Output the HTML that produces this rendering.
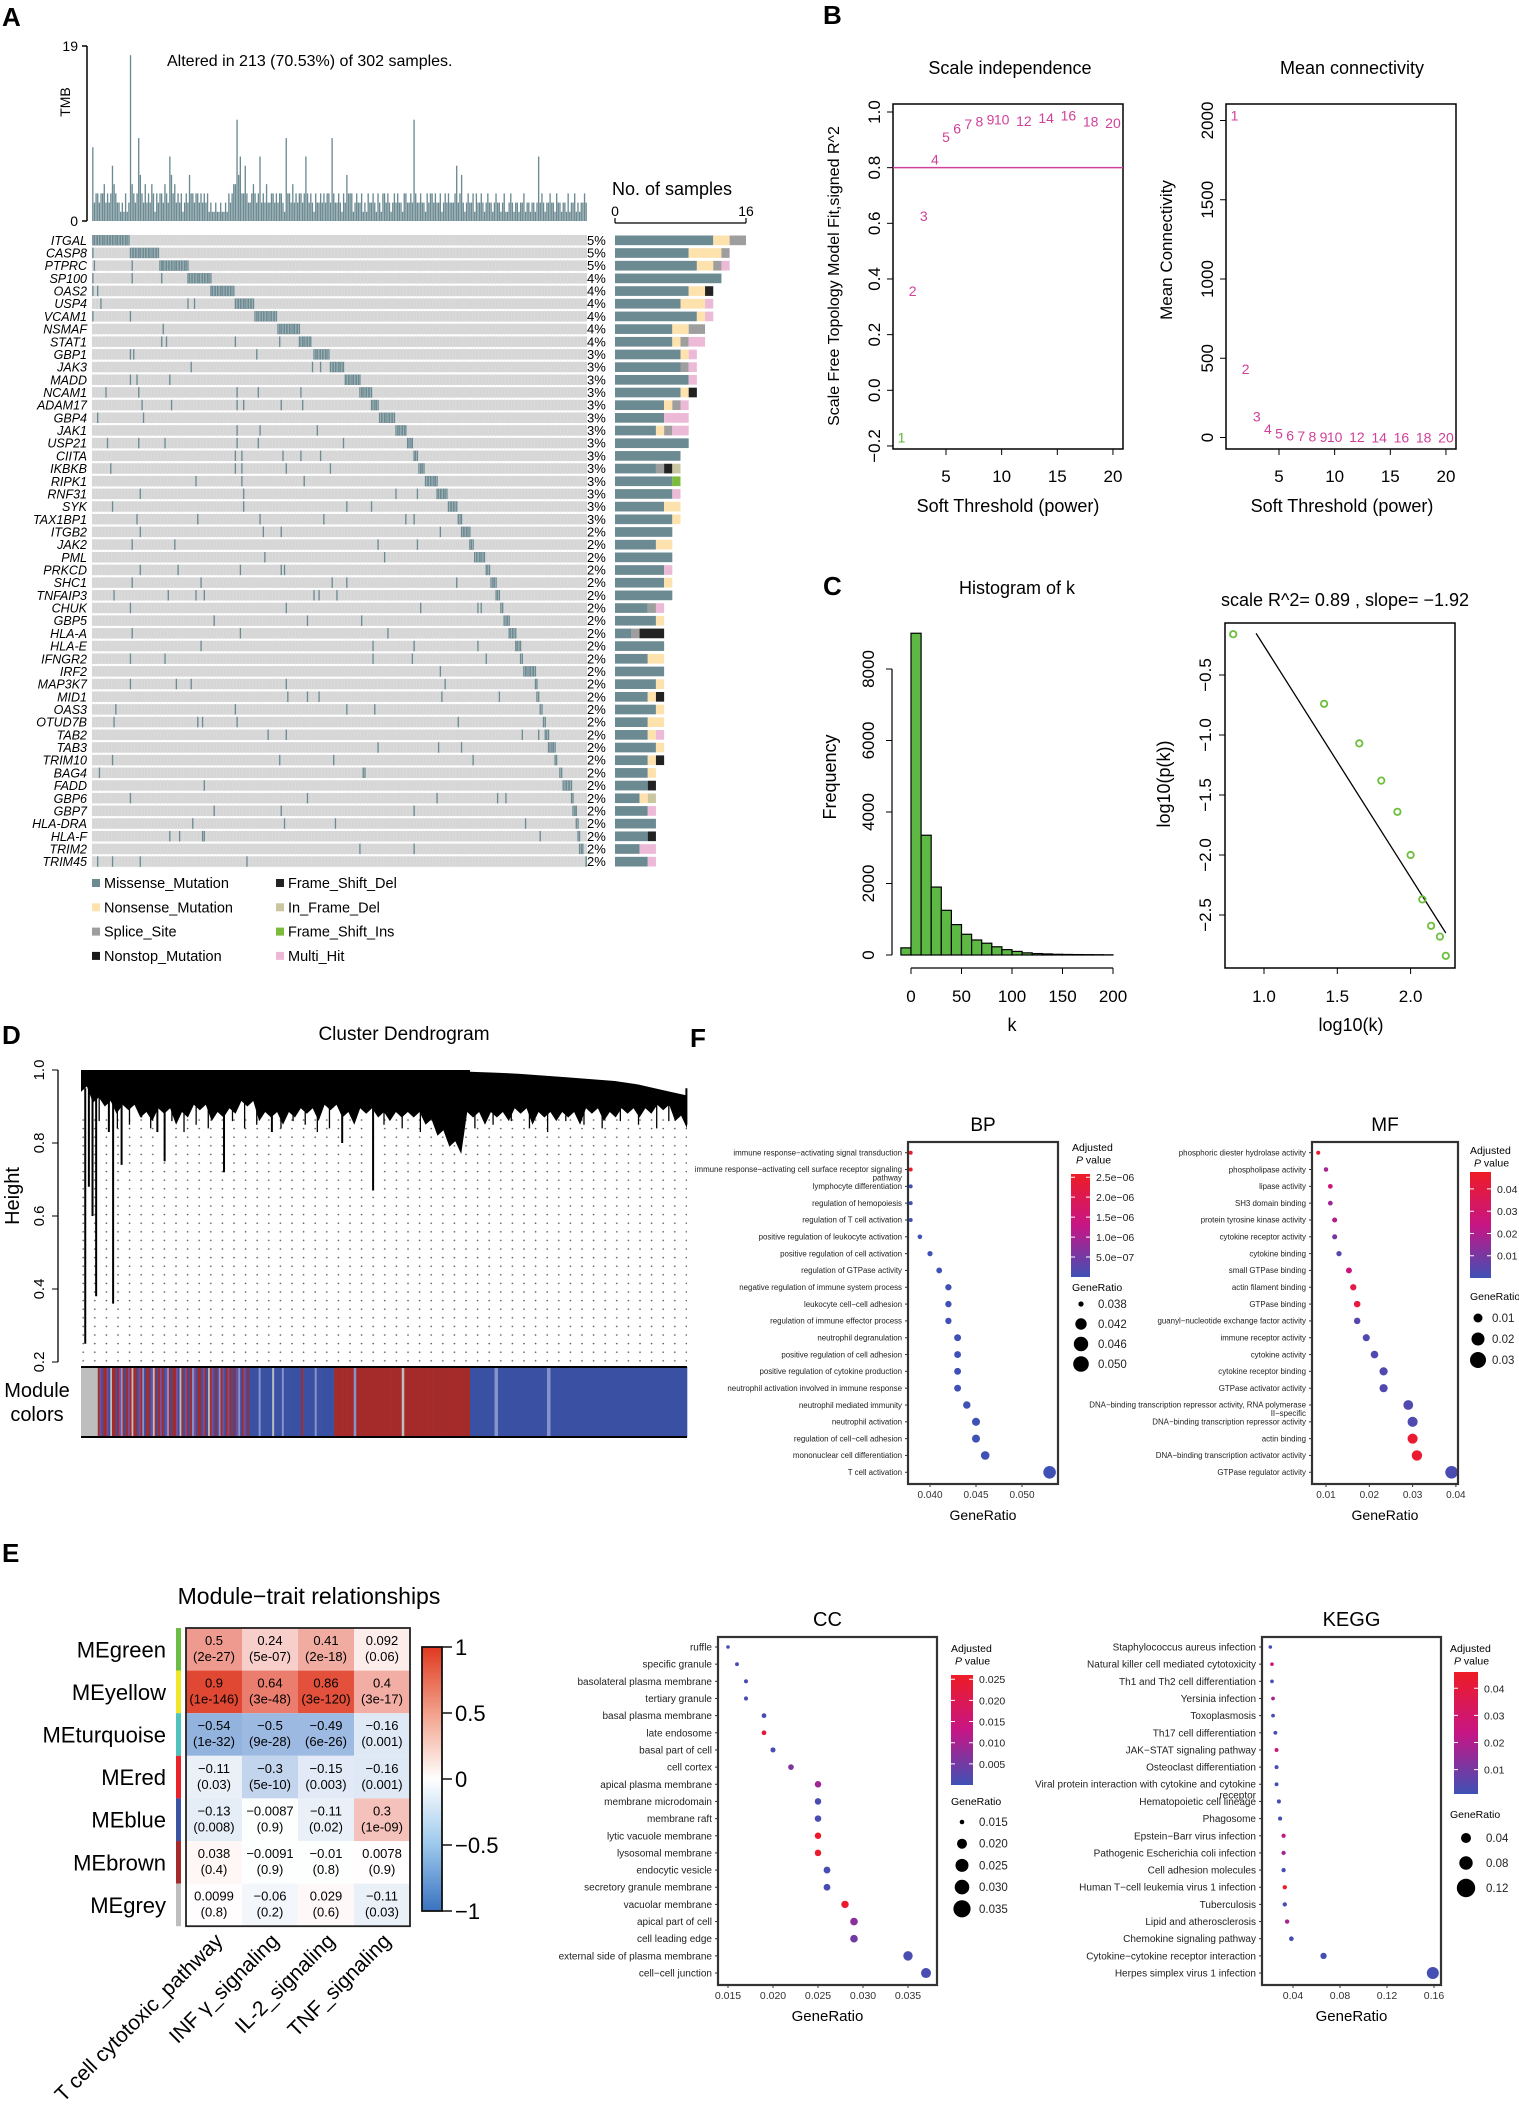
<!DOCTYPE html>
<html><head><meta charset="utf-8">
<style>
html,body{margin:0;padding:0;background:#fff;}
svg{display:block;font-family:"Liberation Sans",Arial,sans-serif;}
</style></head>
<body>
<svg id="fig" width="1519" height="2117" viewBox="0 0 1519 2117" xmlns="http://www.w3.org/2000/svg">
<defs>
<pattern id="dots" width="11.6" height="8.6" patternUnits="userSpaceOnUse"><circle cx="2" cy="2" r="0.8" fill="#555"/></pattern>
<linearGradient id="pgrad" x1="0" y1="1" x2="0" y2="0"><stop offset="0" stop-color="#3f51b5"/><stop offset="0.5" stop-color="#c71585"/><stop offset="1" stop-color="#ee1c25"/></linearGradient>
<linearGradient id="hgrad" x1="0" y1="1" x2="0" y2="0"><stop offset="0" stop-color="#3a72c0"/><stop offset="0.25" stop-color="#9cc8ec"/><stop offset="0.5" stop-color="#ffffff"/><stop offset="0.75" stop-color="#f2a08a"/><stop offset="1" stop-color="#e0391f"/></linearGradient>
<clipPath id="scClip"><rect x="1225" y="623" width="230" height="345"/></clipPath>
</defs>
<rect x="0" y="0" width="1519" height="2117" fill="#fff"/>
<text x="2" y="26" font-size="26" font-weight="bold">A</text>
<text x="823" y="24" font-size="26" font-weight="bold">B</text>
<text x="823" y="595" font-size="26" font-weight="bold">C</text>
<text x="2" y="1044" font-size="26" font-weight="bold">D</text>
<text x="2" y="1562" font-size="26" font-weight="bold">E</text>
<text x="690" y="1047" font-size="26" font-weight="bold">F</text>
</svg>
<script>
const NS='http://www.w3.org/2000/svg';
const svg=document.getElementById('fig');
function mk(p,tag,a,t){const e=document.createElementNS(NS,tag);for(const k in a)e.setAttribute(k,a[k]);if(t!==undefined)e.textContent=t;p.appendChild(e);return e;}
function tx(p,x,y,s,size,anchor,extra){const a=Object.assign({x:x,y:y,'font-size':size,'text-anchor':anchor||'start'},extra||{});return mk(p,'text',a,s);}
function grp(name){const g=mk(svg,'g',{});return g;}

/* ================= PANEL A DATA ================= */
const genes=['ITGAL','CASP8','PTPRC','SP100','OAS2','USP4','VCAM1','NSMAF','STAT1','GBP1','JAK3','MADD','NCAM1','ADAM17','GBP4','JAK1','USP21','CIITA','IKBKB','RIPK1','RNF31','SYK','TAX1BP1','ITGB2','JAK2','PML','PRKCD','SHC1','TNFAIP3','CHUK','GBP5','HLA-A','HLA-E','IFNGR2','IRF2','MAP3K7','MID1','OAS3','OTUD7B','TAB2','TAB3','TRIM10','BAG4','FADD','GBP6','GBP7','HLA-DRA','HLA-F','TRIM2','TRIM45'];
const genePct=[5,5,5,4,4,4,4,4,4,3,3,3,3,3,3,3,3,3,3,3,3,3,3,2,2,2,2,2,2,2,2,2,2,2,2,2,2,2,2,2,2,2,2,2,2,2,2,2,2,2];
const blockStart=[0,23,41,58,72,87,100,113,126,135,145,154,163,170,175,185,192,196,199,203,210,217,223,225,230,233,240,243,246,249,252,254,258,261,263,270,271,273,275,276,278,282,285,287,292,293,295,296,297,301];
const blockEnd=[22,40,58,72,86,98,112,126,133,144,153,163,170,174,184,191,195,198,202,210,216,222,225,230,232,239,242,246,248,250,254,258,261,262,270,271,272,274,276,278,282,283,286,292,293,295,296,297,299,301];
const scatter=[[],[0],[1,24,42],[0,24,42],[0,3],[5,58,62],[0,23,99],[43],[42,45,87,114],[23,25,100],[60,134,139],[23,27,47],[8,28,88,101,127],[30,48,88,92,115,128],[3,31],[88,102,137],[9,28,44,88,101,153],[87,91,116,127,139],[11,87,91,118,145],[63,91,129],[29,92,185,198],[12,92,155,170],[27,64,102,141,191,196],[29,104,115,212],[24,50,174,198],[105,178],[29,52,90,115,117],[24,66,146,155,222],[13,46,63,68,135,138,149],[23,118,200,235,237],[74,131,164,251],[24,90,180],[66,171,196,235],[23,44,171,195,240],[212],[23,51,60,118,215],[119,131,138,213,248],[14,87,155,172],[13,64,67,88,223],[107,118,262,272],[174,211,225],[12,114,147,232],[4,165,166],[68],[23,131,210,247,252],[74,115,196],[61,117,148,264],[47,53,67,68,273],[163,196],[3,12,29,94]];
const tmb=[8,2,3,3,2,3,3,4,2,3,2,3,6,4,3,2,2,1,2,1,
3,1,2,18,4,3,2,3,9,5,3,2,4,2,3,2,4,3,1,3,
2,3,3,2,4,3,2,7,5,3,4,2,3,2,3,1,2,3,2,5,
3,3,2,3,3,2,3,2,3,2,3,1,2,1,1,2,1,1,2,1,
1,2,1,3,2,3,4,4,11,5,7,3,3,6,3,2,2,3,4,3,
2,3,7,2,3,2,4,2,2,3,3,2,3,2,3,3,2,1,9,3,
3,2,4,2,3,2,3,3,2,3,7,3,2,3,2,1,3,2,2,3,
2,3,2,3,3,2,9,3,2,2,3,2,1,3,2,5,3,3,3,1,
2,3,2,2,3,1,2,1,3,2,2,3,2,1,3,2,1,3,3,2,
3,2,1,2,3,2,3,2,2,1,3,3,2,2,3,2,11,3,2,2,
3,2,2,1,3,2,3,3,2,3,2,2,3,1,2,3,2,3,2,2,
2,3,6,2,3,5,2,1,2,3,2,2,3,1,3,2,2,3,2,1,
2,3,2,2,1,2,3,2,2,1,2,3,1,1,2,3,2,1,2,2,
1,2,2,3,1,2,2,1,2,2,1,2,7,2,3,2,1,2,2,3,
2,2,1,3,2,2,1,2,2,1,3,1,2,2,3,1,2,1,2,2,
3,2];
const misCount=[12,9,10,13,9,8,10,7,7,8,8,9,8,6,6,5,9,8,5,7,7,6,7,7,5,7,6,6,7,4,5,2,6,4,6,5,4,5,4,4,5,4,4,4,3,4,5,4,3,4];
const nonCount=[2,4,2,0,2,3,1,2,1,1,0,0,1,1,0,1,0,0,0,0,0,2,1,0,2,0,0,1,0,0,1,0,0,2,0,1,1,1,2,1,1,1,1,0,1,0,0,0,0,0];
const spliceCount=[2,1,1,0,0,0,0,2,1,0,1,0,0,1,0,1,0,0,1,0,0,0,0,0,0,0,0,0,0,1,0,1,0,0,0,0,0,0,0,0,0,0,0,0,0,0,0,0,0,0];
const fsdelCount=[0,0,0,0,1,0,0,0,0,0,0,0,1,0,0,0,0,0,1,0,0,0,0,0,0,0,0,0,0,0,0,3,0,0,0,0,1,0,0,0,0,1,0,1,0,0,0,1,0,0];
const ifdelCount=[0,0,0,0,0,0,0,0,0,0,0,0,0,0,0,0,0,0,1,0,0,0,0,0,0,0,0,0,0,0,0,0,0,0,0,0,0,0,0,0,0,0,0,0,1,0,0,0,0,0];
const fsinsCount=[0,0,0,0,0,0,0,0,0,0,0,0,0,0,0,0,0,0,0,1,0,0,0,0,0,0,0,0,0,0,0,0,0,0,0,0,0,0,0,0,0,0,0,0,0,0,0,0,0,0];
const multiCount=[0,0,1,0,0,1,1,0,2,1,1,1,0,1,3,2,0,0,0,0,1,0,0,0,0,0,1,0,0,1,0,0,0,0,0,0,0,0,0,1,0,0,0,0,0,1,0,0,2,1];
const legendA=['Missense_Mutation','Nonsense_Mutation','Splice_Site','Nonstop_Mutation','Frame_Shift_Del','In_Frame_Del','Frame_Shift_Ins','Multi_Hit'];
const legendAColors=['#6b8a92','#fde2ad','#9e9e9e','#1a1a1a','#222222','#cbc6a2','#7dbb3c','#ecbad7'];

/* ================= PANEL B/C DATA ================= */
const powers=[1,2,3,4,5,6,7,8,9,10,12,14,16,18,20];
const sftR2=[-0.17,0.357,0.626,0.83,0.91,0.94,0.957,0.966,0.973,0.973,0.968,0.978,0.988,0.966,0.96];
const meanK=[2030,431,131,55,25,14,9,6,4,3,2,1,1,1,1];
const histEdges=[-10,0,10,20,30,40,50,60,70,80,90,100,110,120,130,140,150,160,170,180,190,200];
const histCounts=[200,9000,3350,1900,1250,850,580,420,330,230,150,100,60,40,30,20,15,12,10,8,5];
const logK=[0.79,1.41,1.65,1.80,1.91,2.0,2.08,2.14,2.20,2.24];
const logPK=[-0.16,-0.74,-1.07,-1.38,-1.64,-2.0,-2.37,-2.59,-2.68,-2.84];
const fitLine=[0.946,2.24];

/* ================= PANEL D DATA ================= */
const dendroBottom=[0.94,0.91,0.90,0.88,0.89,0.87,0.86,0.88,0.85,0.87,0.89,0.86,0.87,0.88,0.90,0.86,0.87,0.85,0.87,0.88,0.86,0.89,0.87,0.85,0.88,0.87,0.86,0.87,0.87,0.85,0.82,0.79,0.77,0.87,0.85,0.87,0.86,0.88,0.85,0.87,0.86,0.87,0.85,0.88,0.86,0.87,0.88,0.87,0.88,0.89,0.86,0.84];
const dendroRightTop=[0.995,0.993,0.99,0.985,0.98,0.975,0.97,0.96,0.945,0.93];
const dropLeaf=[0.007,0.013,0.019,0.025,0.046,0.053,0.067,0.126,0.138,0.236,0.315,0.431,0.482,0.999];
const dropHeight=[0.25,0.68,0.60,0.38,0.83,0.36,0.74,0.83,0.75,0.72,0.83,0.80,0.67,0.85];
const minorLeaf=[0.03,0.06,0.08,0.1,0.115,0.15,0.17,0.19,0.21,0.25,0.27,0.29,0.33,0.35,0.37,0.39,0.41,0.45,0.5,0.53,0.56,0.6,0.62,0.65,0.68,0.71,0.74,0.77,0.8,0.83,0.86,0.89,0.92,0.95,0.97];
const minorHeight=[0.86,0.84,0.85,0.87,0.84,0.86,0.83,0.85,0.84,0.86,0.84,0.85,0.84,0.86,0.85,0.83,0.84,0.86,0.85,0.84,0.83,0.86,0.85,0.84,0.85,0.86,0.84,0.83,0.86,0.85,0.84,0.86,0.85,0.84,0.86];
const stripesMixed='grpbrrpbgrrbrpwrbrprgrrbprwbrrbpgrbrprbpwrbrrpbgrbprbrwpbrrbprbgrpbrbwrpbrprbrbpwbrpbr';
const stripesBlue='bbbbbwbbbbbbgbbbbwbbbbbbbbbrbbbbbbwbbbbbbbbbr';
const stripesBrown='rrrrrrrwrrrrrrrrrrrrrrrrrrgrrrrrrrrrrrrrrrrrrrrrrrrrr';
const stripesBlue2='bbbbbbbwbbbbbbbbbbbbbbwbbbbbbbbbbbbbbbbbbbbbbbbbbbbbbbbbbbbbbb';

/* ================= PANEL E DATA ================= */
const modules=['MEgreen','MEyellow','MEturquoise','MEred','MEblue','MEbrown','MEgrey'];
const moduleColors=['#6cbd45','#f0e62a','#4fc2bd','#e8232a','#3a53a4','#a52a2a','#bebebe'];
const traits=['T cell cytotoxic_pathway','INF γ_signaling','IL-2_signaling','TNF_signaling'];
const corVals=[[0.5,0.24,0.41,0.092],[0.9,0.64,0.86,0.4],[-0.54,-0.5,-0.49,-0.16],[-0.11,-0.3,-0.15,-0.16],[-0.13,-0.0087,-0.11,0.3],[0.038,-0.0091,-0.01,0.0078],[0.0099,-0.06,0.029,-0.11]];
const corP=[['2e-27','5e-07','2e-18','0.06'],['1e-146','3e-48','3e-120','3e-17'],['1e-32','9e-28','6e-26','0.001'],['0.03','5e-10','0.003','0.001'],['0.008','0.9','0.02','1e-09'],['0.4','0.9','0.8','0.9'],['0.8','0.2','0.6','0.03']];
const heatTicks=[1,0.5,0,-0.5,-1];

/* ================= PANEL F DATA ================= */
const bpTerms=['immune response−activating signal transduction','immune response−activating cell surface receptor signaling|pathway','lymphocyte differentiation','regulation of hemopoiesis','regulation of T cell activation','positive regulation of leukocyte activation','positive regulation of cell activation','regulation of GTPase activity','negative regulation of immune system process','leukocyte cell−cell adhesion','regulation of immune effector process','neutrophil degranulation','positive regulation of cell adhesion','positive regulation of cytokine production','neutrophil activation involved in immune response','neutrophil mediated immunity','neutrophil activation','regulation of cell−cell adhesion','mononuclear cell differentiation','T cell activation'];
const bpRatio=[0.0379,0.0379,0.0379,0.0379,0.0379,0.0389,0.040,0.041,0.042,0.042,0.042,0.043,0.043,0.043,0.043,0.044,0.045,0.045,0.046,0.053];
const bpPadj=[2.5e-6,2.5e-6,1e-8,1e-8,1e-8,1e-8,1e-8,1e-8,1e-8,1e-8,1e-8,1e-8,1e-8,1e-8,1e-8,1e-8,1e-8,1e-8,1e-8,1e-8];
const bpXTicks=[0.040,0.045,0.050];
const bpCTicks=[2.5e-6,2.0e-6,1.5e-6,1.0e-6,5.0e-7];
const bpCTickLabels=['2.5e−06','2.0e−06','1.5e−06','1.0e−06','5.0e−07'];
const bpSizeLegend=[0.038,0.042,0.046,0.050];

const mfTerms=['phosphoric diester hydrolase activity','phospholipase activity','lipase activity','SH3 domain binding','protein tyrosine kinase activity','cytokine receptor activity','cytokine binding','small GTPase binding','actin filament binding','GTPase binding','guanyl−nucleotide exchange factor activity','immune receptor activity','cytokine activity','cytokine receptor binding','GTPase activator activity','DNA−binding transcription repressor activity, RNA polymerase|II−specific','DNA−binding transcription repressor activity','actin binding','DNA−binding transcription activator activity','GTPase regulator activity'];
const mfRatio=[0.0082,0.010,0.011,0.011,0.012,0.012,0.013,0.0153,0.0163,0.0172,0.0172,0.0193,0.0212,0.0233,0.0233,0.029,0.030,0.030,0.031,0.039];
const mfPadj=[0.045,0.018,0.028,0.017,0.02,0.01,0.004,0.025,0.04,0.042,0.004,0.003,0.003,0.003,0.003,0.003,0.003,0.045,0.045,0.002];
const mfXTicks=[0.01,0.02,0.03,0.04];
const mfCTicks=[0.04,0.03,0.02,0.01];
const mfSizeLegend=[0.01,0.02,0.03];

const ccTerms=['ruffle','specific granule','basolateral plasma membrane','tertiary granule','basal plasma membrane','late endosome','basal part of cell','cell cortex','apical plasma membrane','membrane microdomain','membrane raft','lytic vacuole membrane','lysosomal membrane','endocytic vesicle','secretory granule membrane','vacuolar membrane','apical part of cell','cell leading edge','external side of plasma membrane','cell−cell junction'];
const ccRatio=[0.015,0.016,0.017,0.017,0.019,0.019,0.020,0.022,0.025,0.025,0.025,0.025,0.025,0.026,0.026,0.028,0.029,0.029,0.035,0.037];
const ccPadj=[0.001,0.001,0.001,0.001,0.001,0.023,0.001,0.006,0.009,0.001,0.001,0.025,0.025,0.001,0.001,0.025,0.007,0.005,0.001,0.001];
const ccXTicks=[0.015,0.020,0.025,0.030,0.035];
const ccCTicks=[0.025,0.020,0.015,0.010,0.005];
const ccSizeLegend=[0.015,0.020,0.025,0.030,0.035];

const keggTerms=['Staphylococcus aureus infection','Natural killer cell mediated cytotoxicity','Th1 and Th2 cell differentiation','Yersinia infection','Toxoplasmosis','Th17 cell differentiation','JAK−STAT signaling pathway','Osteoclast differentiation','Viral protein interaction with cytokine and cytokine|receptor','Hematopoietic cell lineage','Phagosome','Epstein−Barr virus infection','Pathogenic Escherichia coli infection','Cell adhesion molecules','Human T−cell leukemia virus 1 infection','Tuberculosis','Lipid and atherosclerosis','Chemokine signaling pathway','Cytokine−cytokine receptor interaction','Herpes simplex virus 1 infection'];
const keggRatio=[0.0207,0.0221,0.0221,0.023,0.023,0.025,0.026,0.026,0.026,0.028,0.029,0.032,0.032,0.032,0.033,0.033,0.035,0.0386,0.066,0.159];
const keggPadj=[0.002,0.025,0.002,0.018,0.002,0.002,0.025,0.002,0.002,0.002,0.002,0.025,0.018,0.002,0.045,0.002,0.017,0.002,0.002,0.002];
const keggXTicks=[0.04,0.08,0.12,0.16];
const keggCTicks=[0.04,0.03,0.02,0.01];
const keggSizeLegend=[0.04,0.08,0.12];

/* ================= DRAW PANEL A ================= */
(function(){
const g=grp('oncoplot-panel');
const gx0=92,gx1=587,n=302,sw=(gx1-gx0)/n,gy0=234,pitch=12.68;
const xs=i=>gx0+i*sw;
const tY=v=>221-v*(175/19);
tmb.forEach((v,i)=>{
 const b=mk(g,'rect',{x:xs(i)+0.15,y:tY(v),width:sw-0.3,height:221-tY(v),fill:'#6b8a92'});
 
 
});
const ax=mk(g,'path',{d:'M87 46 V221 M82 46 H87 M82 221 H87',stroke:'#000','stroke-width':1.5,fill:'none'});


let t=tx(g,78,51,'19',14,'end');
t=tx(g,78,226,'0',14,'end');
t=tx(g,0,0,'TMB',14,'middle',{transform:'translate(70,102) rotate(-90)'});
t=tx(g,167,66,'Altered in 213 (70.53%) of 302 samples.',16);
genes.forEach((gn,r)=>{
 const y=gy0+r*pitch;
 const bg=mk(g,'rect',{x:gx0,y:y+1,width:gx1-gx0,height:pitch-2.2,fill:'#d6d6d6'});
 
 
 const marks=[];
 for(let s=blockStart[r];s<=blockEnd[r];s++)marks.push(s);
 scatter[r].forEach(s=>marks.push(s));
 marks.forEach(s=>{
  const m=mk(g,'rect',{x:xs(s)+0.1,y:y+1,width:sw-0.2,height:pitch-2.2,fill:'#6b8a92'});
  
  
 });
 const gl=tx(g,87,y+pitch/2+4.5,gn,12.5,'end',{'font-style':'italic'});
 
 
 const pl=tx(g,587,y+pitch/2+4.5,genePct[r]+'%',13);
 
 
 const cnts=[misCount[r],nonCount[r],spliceCount[r],0,fsdelCount[r],ifdelCount[r],fsinsCount[r],multiCount[r]];
 let x=615;const u=131/16;
 cnts.forEach((c,k)=>{ if(c>0){
  const rb=mk(g,'rect',{x:x,y:y+1.5,width:c*u,height:pitch-3,fill:legendAColors[k]});
  
  
  x+=c*u;}});
});
for(let i=0;i<n;i+=2){const l=mk(g,'line',{x1:xs(i),x2:xs(i),y1:gy0,y2:gy0+50*pitch,stroke:'#e4e4e4','stroke-width':0.3});}
const ra=mk(g,'path',{d:'M615 223 H746 M615 223 V218 M746 223 V218',stroke:'#000','stroke-width':1.2,fill:'none'});


t=tx(g,615,216,'0',14,'middle');
t=tx(g,746,216,'16',14,'middle');
t=tx(g,612,195,'No. of samples',18);
legendA.forEach((nm,k)=>{
 const col=k<4?0:1,row=k%4;
 const x=col?276:92,y=883+row*24.3;
 const sq=mk(g,'rect',{x:x,y:y-4,width:8,height:8,fill:legendAColors[k]});
 
 
 const lt=tx(g,x+12,y+5,nm,14.5);
 
 
});
})();

/* ================= PANEL B ================= */
(function(){
const g=grp('soft-threshold-panel');
function frame(x0,y0,x1,y1,name){const r=mk(g,'rect',{x:x0,y:y0,width:x1-x0,height:y1-y0,fill:'none',stroke:'#000','stroke-width':1.5});}
const xsi=p=>946+(p-5)*11.13, ysi=v=>112+(1-v)*278.3;
frame(893,104,1123,449,'scale-independence-plot-frame');
let t=tx(g,1010,74,'Scale independence',18,'middle');
[5,10,15,20].forEach(p=>{const l=mk(g,'line',{x1:xsi(p),x2:xsi(p),y1:449,y2:455,stroke:'#000'});
 const tt=tx(g,xsi(p),482,String(p),17,'middle');});
[-0.2,0,0.2,0.4,0.6,0.8,1.0].forEach(v=>{const l=mk(g,'line',{x1:887,x2:893,y1:ysi(v),y2:ysi(v),stroke:'#000'});
 const tt=tx(g,0,0,v.toFixed(1).replace('-','−'),17,'middle',{transform:`translate(880,${ysi(v)}) rotate(-90)`});});
t=tx(g,1008,512,'Soft Threshold (power)',18,'middle');
t=tx(g,0,0,'Scale Free Topology Model Fit,signed R^2',16,'middle',{transform:'translate(839,276) rotate(-90)'});
const hl=mk(g,'line',{x1:893,x2:1123,y1:ysi(0.8),y2:ysi(0.8),stroke:'#d0409a','stroke-width':1.5});
powers.forEach((p,i)=>{const pt=tx(g,xsi(p),ysi(sftR2[i])+5,String(p),14,'middle',{fill:i===0?'#5cb83a':'#d0409a'});});
const xmc=p=>1279+(p-5)*11.13, ymc=v=>437.5-v*0.1585;
frame(1226,104,1456,449,'mean-connectivity-plot-frame');
t=tx(g,1352,74,'Mean connectivity',18,'middle');
[5,10,15,20].forEach(p=>{const l=mk(g,'line',{x1:xmc(p),x2:xmc(p),y1:449,y2:455,stroke:'#000'});
 const tt=tx(g,xmc(p),482,String(p),17,'middle');});
[0,500,1000,1500,2000].forEach(v=>{const l=mk(g,'line',{x1:1220,x2:1226,y1:ymc(v),y2:ymc(v),stroke:'#000'});
 const tt=tx(g,0,0,String(v),17,'middle',{transform:`translate(1213,${ymc(v)}) rotate(-90)`});});
t=tx(g,1342,512,'Soft Threshold (power)',18,'middle');
t=tx(g,0,0,'Mean Connectivity',17,'middle',{transform:'translate(1172,250) rotate(-90)'});
powers.forEach((p,i)=>{const pt=tx(g,xmc(p),ymc(meanK[i])+5,String(p),14,'middle',{fill:'#d0409a'});});
})();

/* ================= PANEL C ================= */
(function(){
const g=grp('scale-free-panel');
const xh=k=>911+k*1.01, yh=f=>955-f*0.03575;
let t=tx(g,1017,594,'Histogram of k',18,'middle');
histCounts.forEach((c,i)=>{const b=mk(g,'rect',{x:xh(histEdges[i]),y:yh(c),width:xh(histEdges[i+1])-xh(histEdges[i]),height:955-yh(c),fill:'#5db944',stroke:'#000','stroke-width':1.2});});
const ya=mk(g,'path',{d:`M892 ${yh(0)} V${yh(8000)}`,stroke:'#000','stroke-width':1.2});
[0,2000,4000,6000,8000].forEach(v=>{const l=mk(g,'line',{x1:886,x2:892,y1:yh(v),y2:yh(v),stroke:'#000'});
 const tt=tx(g,0,0,String(v),17,'middle',{transform:`translate(874,${yh(v)}) rotate(-90)`});});
const xa=mk(g,'path',{d:`M${xh(0)} 968 H${xh(200)}`,stroke:'#000','stroke-width':1.2});
[0,50,100,150,200].forEach(v=>{const l=mk(g,'line',{x1:xh(v),x2:xh(v),y1:968,y2:974,stroke:'#000'});
 const tt=tx(g,xh(v),1002,String(v),17,'middle');});
t=tx(g,1012,1031,'k',18,'middle');
t=tx(g,0,0,'Frequency',18,'middle',{transform:'translate(836,777) rotate(-90)'});
const xs=v=>1264+(v-1)*146.6, ys=v=>675+(-0.5-v)*120;
t=tx(g,1345,606,'scale R^2= 0.89 , slope= −1.92',18,'middle');
const fr=mk(g,'rect',{x:1225,y:623,width:230,height:345,fill:'none',stroke:'#000','stroke-width':1.5});
const a=1.75-0.077, b=-1.93;
const fl=mk(g,'line',{x1:xs(fitLine[0]),y1:ys(a+b*fitLine[0]),x2:xs(fitLine[1]),y2:ys(a+b*fitLine[1]),stroke:'#000','stroke-width':1.3,'clip-path':'url(#scClip)'});
logK.forEach((v,i)=>{const c=mk(g,'circle',{cx:xs(v),cy:ys(logPK[i]),r:3.2,fill:'none',stroke:'#6cbf3a','stroke-width':1.8});});
[1.0,1.5,2.0].forEach(v=>{const l=mk(g,'line',{x1:xs(v),x2:xs(v),y1:968,y2:974,stroke:'#000'});
 const tt=tx(g,xs(v),1002,v.toFixed(1),17,'middle');});
[-0.5,-1.0,-1.5,-2.0,-2.5].forEach(v=>{const l=mk(g,'line',{x1:1219,x2:1225,y1:ys(v),y2:ys(v),stroke:'#000'});
 const tt=tx(g,0,0,v.toFixed(1).replace('-','−'),17,'middle',{transform:`translate(1211,${ys(v)}) rotate(-90)`});});
t=tx(g,1351,1031,'log10(k)',18,'middle');
t=tx(g,0,0,'log10(p(k))',18,'middle',{transform:'translate(1170,784) rotate(-90)'});
})();

/* ================= PANEL D ================= */
(function(){
const g=grp('cluster-dendrogram-panel');
const yd=h=>1070+(1-h)*365, x0=81,x1=687;
let t=tx(g,404,1040,'Cluster Dendrogram',19,'middle');
const dt=mk(g,'rect',{x:x0,y:1115,width:x1-x0,height:1362-1115,fill:'url(#dots)'});
const ya=mk(g,'path',{d:`M58 ${yd(1)} V${yd(0.2)}`,stroke:'#000','stroke-width':1.3});
[1.0,0.8,0.6,0.4,0.2].forEach(v=>{const l=mk(g,'line',{x1:52,x2:58,y1:yd(v),y2:yd(v),stroke:'#000'});
 const tt=tx(g,0,0,v.toFixed(1),15,'middle',{transform:`translate(44,${yd(v)}) rotate(-90)`});});
t=tx(g,0,0,'Height',20,'middle',{transform:'translate(19,1196) rotate(-90)'});
const nB=dendroBottom.length, step=(x1-x0)/(nB-1);
let pts=[[x0,yd(1.0)],[470,yd(1.0)]];
dendroRightTop.forEach((h,i)=>pts.push([470+i*(x1-470)/(dendroRightTop.length-1),yd(h)]));
for(let i=nB-1;i>=0;i--){const x=x0+i*step;pts.push([x,yd(dendroBottom[i])]);if(i>0){pts.push([x-step/2,yd(Math.max(dendroBottom[i],dendroBottom[i-1])+0.015)]);}}
const poly=mk(g,'polygon',{points:pts.map(p=>p[0].toFixed(1)+','+p[1].toFixed(1)).join(' '),fill:'#000'});


minorLeaf.forEach((f,i)=>{const x=x0+f*(x1-x0);const l=mk(g,'line',{x1:x,x2:x,y1:yd(0.93),y2:yd(minorHeight[i]),stroke:'#000','stroke-width':1.3});});
dropLeaf.forEach((f,i)=>{const x=x0+f*(x1-x0);const l=mk(g,'line',{x1:x,x2:x,y1:yd(0.95),y2:yd(dropHeight[i]),stroke:'#000','stroke-width':2});});
const cmap={g:'#bebebe',b:'#3a50a2',r:'#a52a2a',w:'#8794cc',p:'#7a4f9a'};
function stripes(str,xa,xb){const w=(xb-xa)/str.length;for(let i=0;i<str.length;i++){const r=mk(g,'rect',{x:xa+i*w,y:1367,width:w+0.3,height:70,fill:cmap[str[i]]});}}
const gr=mk(g,'rect',{x:81,y:1367,width:15,height:70,fill:'#bebebe'});
stripes(stripesMixed,96,249);stripes(stripesBlue,249,336);stripes(stripesBrown,336,470);stripes(stripesBlue2,470,687);
const bl=mk(g,'path',{d:'M81 1367 H687 M81 1437 H687',stroke:'#000','stroke-width':2});
t=tx(g,37,1397,'Module',20,'middle');
t=tx(g,37,1421,'colors',20,'middle');
})();

/* ================= PANEL E ================= */
(function(){
const g=grp('module-trait-heatmap-panel');
const hx0=186,hy0=1628,cw=56,rh=42.6;
function heatColor(v){const t=Math.min(1,Math.abs(v));let c;
 if(v>=0)c=[255-t*(255-222),255-t*(255-52),255-t*(255-28)];else c=[255-t*(255-55),255-t*(255-115),255-t*(255-195)];
 return `rgb(${c.map(Math.round).join(',')})`;}
let t=tx(g,309,1604,'Module−trait relationships',23,'middle');
modules.forEach((m,r)=>{
 const s=mk(g,'rect',{x:176,y:hy0+r*rh,width:5,height:rh,fill:moduleColors[r]});
 const l=tx(g,166,hy0+r*rh+rh/2+8,m,22,'end');
 traits.forEach((tr,c)=>{
  const v=corVals[r][c];
  const cell=mk(g,'rect',{x:hx0+c*cw,y:hy0+r*rh,width:cw,height:rh,fill:heatColor(v)});
  const a=tx(g,hx0+c*cw+cw/2,hy0+r*rh+17,String(v).replace('-','−'),13,'middle');
  const b=tx(g,hx0+c*cw+cw/2,hy0+r*rh+33,'('+corP[r][c]+')',13,'middle');
 });
});
const fr=mk(g,'rect',{x:hx0,y:hy0,width:4*cw,height:7*rh,fill:'none',stroke:'#222','stroke-width':1.8});
traits.forEach((tr,c)=>{const l=tx(g,0,0,tr,21,'end',{transform:`translate(${hx0+c*cw+cw/2+10},${hy0+7*rh+16}) rotate(-45)`});});
const cy0=1647,cy1=1911,ycb=v=>cy0+(1-v)/2*(cy1-cy0);
const cb=mk(g,'rect',{x:422,y:cy0,width:20,height:cy1-cy0,fill:'url(#hgrad)',stroke:'#111','stroke-width':1.8});
heatTicks.forEach(v=>{const l=mk(g,'line',{x1:442,x2:452,y1:ycb(v),y2:ycb(v),stroke:'#111','stroke-width':1.5});
 const tt=tx(g,455,ycb(v)+8,String(v).replace('-','−'),22);});
})();

/* ================= PANEL F ================= */
function pColor(v,d0,d1){let t=(v-d0)/(d1-d0);t=Math.max(0,Math.min(1,t));
 const A=[63,81,181],M=[199,21,133],B=[238,28,37];let c;
 if(t<0.5){const u=t/0.5;c=A.map((a,i)=>a+(M[i]-a)*u);}else{const u=(t-0.5)/0.5;c=M.map((a,i)=>a+(B[i]-a)*u);}
 return `rgb(${c.map(Math.round).join(',')})`;}
function dotplot(name,title,terms,ratio,padj,xTicks,cTicks,cLabels,sizeLeg,cfg){
 const g=grp(name);
 const X=r=>cfg.xa+(r-cfg.r0)*cfg.k, Y=i=>cfg.y0+i*cfg.pitch;
 const rMin=Math.min(...ratio),rMax=Math.max(...ratio);
 const R=r=>cfg.rr[0]+(r-rMin)/(rMax-rMin)*(cfg.rr[1]-cfg.rr[0]);
 let t=tx(g,(cfg.bx0+cfg.bx1)/2,cfg.by0-11,title,cfg.titleSize,'middle');
 terms.forEach((term,i)=>{
  const parts=term.split('|');
  parts.forEach((p,j)=>{const l=tx(g,cfg.bx0-6,Y(i)+cfg.fs*0.35+(j-(parts.length-1)/2)*cfg.fs*1.1+(parts.length>1?cfg.fs*0.5:0),p,cfg.fs,'end',{fill:'#222'});});
  const tk=mk(g,'line',{x1:cfg.bx0-3,x2:cfg.bx0,y1:Y(i),y2:Y(i),stroke:'#333'});
  const c=mk(g,'circle',{cx:X(ratio[i]),cy:Y(i),r:R(ratio[i]),fill:pColor(padj[i],cfg.d0,cfg.d1)});
  
  
 });
 const fr=mk(g,'rect',{x:cfg.bx0,y:cfg.by0,width:cfg.bx1-cfg.bx0,height:cfg.by1-cfg.by0,fill:'none',stroke:'#333','stroke-width':2.2});
 xTicks.forEach(v=>{const l=mk(g,'line',{x1:X(v),x2:X(v),y1:cfg.by1,y2:cfg.by1+3,stroke:'#333'});
  const tt=tx(g,X(v),cfg.by1+14,cfg.fmt(v),cfg.tickSize,'middle',{fill:'#333'});});
 t=tx(g,(cfg.bx0+cfg.bx1)/2,cfg.by1+36,'GeneRatio',cfg.axSize,'middle');
 const L=cfg.leg;
 t=tx(g,L.x,L.ay,'Adjusted',cfg.legSize);
 const pv=mk(g,'text',{x:L.x+4,y:L.ay+cfg.legSize*1.2,'font-size':cfg.legSize});
 mk(pv,'tspan',{'font-style':'italic'},'P');mk(pv,'tspan',{},' value');
 const cbar=mk(g,'rect',{x:L.cx0,y:L.cy0,width:L.cx1-L.cx0,height:L.cy1-L.cy0,fill:'url(#pgrad)'});
 const CY=v=>L.cy1-(v-cfg.d0)/(cfg.d1-cfg.d0)*(L.cy1-L.cy0);
 cTicks.forEach((v,k)=>{const l=mk(g,'path',{d:`M${L.cx0} ${CY(v)} h4 M${L.cx1-4} ${CY(v)} h4`,stroke:'#fff','stroke-width':1});
  const tt=tx(g,L.cx1+6,CY(v)+4,cLabels[k],cfg.legSize,'start',{fill:'#222'});});
 t=tx(g,L.x,L.gy,'GeneRatio',cfg.legSize);
 sizeLeg.forEach((v,k)=>{const yy=L.sy0+k*L.sdy;
  const c=mk(g,'circle',{cx:L.dx,cy:yy,r:L.lr[k],fill:'#000'});
  const tt=tx(g,L.tx,yy+4,cfg.fmtL(v),cfg.legSize+1,'start',{fill:'#222'});});
}
dotplot('bp-dotplot','BP',bpTerms,bpRatio,bpPadj,bpXTicks,bpCTicks,bpCTickLabels,bpSizeLegend,
 {bx0:908,bx1:1058,by0:1142,by1:1484,y0:1152.7,pitch:16.82,xa:930,r0:0.040,k:46/0.005,rr:[2,6.3],d0:0,d1:2.58e-6,fs:7.9,titleSize:19,tickSize:10,axSize:14,legSize:10.5,fmt:v=>v.toFixed(3),fmtL:v=>v.toFixed(3),
  leg:{x:1072,ay:1151,cx0:1071,cx1:1090,cy0:1174,cy1:1277,gy:1291,sy0:1304,sdy:20,dx:1081,tx:1098,lr:[2.6,5.7,7.2,7.8]}});
dotplot('mf-dotplot','MF',mfTerms,mfRatio,mfPadj,mfXTicks,mfCTicks,mfCTicks.map(v=>v.toFixed(2)),mfSizeLegend,
 {bx0:1312,bx1:1458,by0:1142,by1:1484,y0:1152.7,pitch:16.82,xa:1326,r0:0.01,k:4330,rr:[2,6.3],d0:0,d1:0.0476,fs:7.9,titleSize:19,tickSize:10,axSize:14,legSize:10.5,fmt:v=>v.toFixed(2),fmtL:v=>v.toFixed(2),
  leg:{x:1470,ay:1154,cx0:1470,cx1:1491,cy0:1172,cy1:1278,gy:1300,sy0:1318,sdy:21,dx:1478,tx:1492,lr:[4.5,6.5,8]}});
dotplot('cc-dotplot','CC',ccTerms,ccRatio,ccPadj,ccXTicks,ccCTicks,ccCTicks.map(v=>v.toFixed(3)),ccSizeLegend,
 {bx0:718,bx1:937,by0:1637,by1:1985,y0:1647,pitch:17.16,xa:728,r0:0.015,k:45/0.005,rr:[1.8,5],d0:0,d1:0.026,fs:10,titleSize:20,tickSize:10.5,axSize:15,legSize:10.5,fmt:v=>v.toFixed(3),fmtL:v=>v.toFixed(3),
  leg:{x:951,ay:1652,cx0:951,cx1:973,cy0:1675,cy1:1785,gy:1805,sy0:1822,sdy:21.7,dx:962,tx:979,lr:[2.3,5,6.5,7.3,8.6]}});
dotplot('kegg-dotplot','KEGG',keggTerms,keggRatio,keggPadj,keggXTicks,keggCTicks,keggCTicks.map(v=>v.toFixed(2)),keggSizeLegend,
 {bx0:1262,bx1:1441,by0:1637,by1:1985,y0:1647,pitch:17.16,xa:1293,r0:0.04,k:47/0.04,rr:[1.8,6],d0:0.001,d1:0.046,fs:10,titleSize:20,tickSize:10.5,axSize:15,legSize:10.5,fmt:v=>v.toFixed(2),fmtL:v=>v.toFixed(2),
  leg:{x:1450,ay:1652,cx0:1454,cx1:1478,cy0:1672,cy1:1794,gy:1818,sy0:1838,sdy:25,dx:1466,tx:1486,lr:[5,6.7,9.2]}});
</script>
</body></html>
